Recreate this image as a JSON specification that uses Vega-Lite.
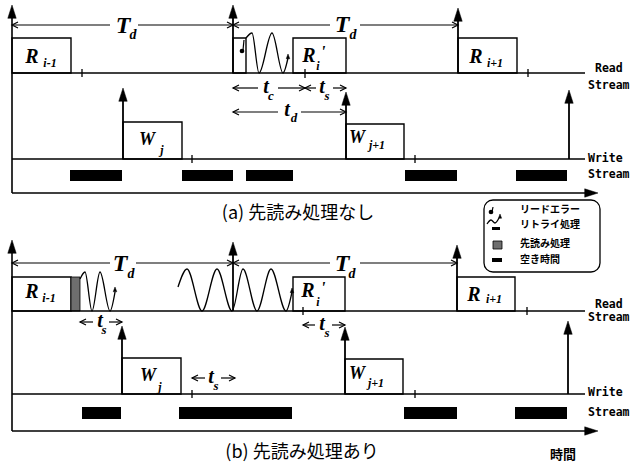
{
  "$schema": "https://vega.github.io/schema/vega-lite/v6.json",
  "width": 631,
  "height": 466,
  "padding": 0,
  "autosize": {"type": "fit", "contains": "padding"},
  "background": "white",
  "config": {"view": {"stroke": null}},
  "datasets": {
    "legendbox": [{"x": 484, "x2": 600, "y": 200, "y2": 272}],
    "boxes": [
      {"x": 12, "x2": 71, "y": 38, "y2": 73},
      {"x": 233, "x2": 246, "y": 38, "y2": 73},
      {"x": 293, "x2": 346, "y": 38, "y2": 73},
      {"x": 458, "x2": 517, "y": 38, "y2": 73},
      {"x": 123, "x2": 182, "y": 122, "y2": 159},
      {"x": 346, "x2": 404, "y": 124, "y2": 159},
      {"x": 12, "x2": 71, "y": 277, "y2": 311},
      {"x": 293, "x2": 345, "y": 277, "y2": 311},
      {"x": 457, "x2": 515, "y": 277, "y2": 311},
      {"x": 122, "x2": 181, "y": 358, "y2": 394},
      {"x": 345, "x2": 403, "y": 359, "y2": 394}
    ],
    "hatched": [
      {"x": 71, "x2": 80, "y": 277, "y2": 311},
      {"x": 493, "x2": 502, "y": 241, "y2": 249}
    ],
    "bars": [
      {"x": 70, "x2": 122, "y": 170, "y2": 181},
      {"x": 182, "x2": 233, "y": 170, "y2": 181},
      {"x": 246, "x2": 293, "y": 170, "y2": 181},
      {"x": 405, "x2": 457, "y": 170, "y2": 181},
      {"x": 516, "x2": 567, "y": 170, "y2": 181},
      {"x": 82, "x2": 121, "y": 407, "y2": 419},
      {"x": 179, "x2": 292, "y": 407, "y2": 419},
      {"x": 404, "x2": 457, "y": 407, "y2": 419},
      {"x": 515, "x2": 567, "y": 407, "y2": 419},
      {"x": 492, "x2": 502, "y": 258, "y2": 262},
      {"x": 492, "x2": 500, "y": 227, "y2": 230}
    ],
    "segs": [
      {"x": 12, "y": 8, "x2": 12, "y2": 193, "w": 1.6},
      {"x": 12, "y": 193, "x2": 592, "y2": 193, "w": 1.5},
      {"x": 12, "y": 73, "x2": 585, "y2": 73, "w": 1.5},
      {"x": 12, "y": 159, "x2": 585, "y2": 159, "w": 1.5},
      {"x": 233, "y": 10, "x2": 233, "y2": 73, "w": 1.8},
      {"x": 458, "y": 12, "x2": 458, "y2": 73, "w": 1.8},
      {"x": 123, "y": 92, "x2": 123, "y2": 159, "w": 1.8},
      {"x": 346, "y": 95, "x2": 346, "y2": 159, "w": 1.8},
      {"x": 569, "y": 93, "x2": 569, "y2": 159, "w": 1.8},
      {"x": 12, "y": 25, "x2": 110, "y2": 25, "w": 1.2},
      {"x": 138, "y": 25, "x2": 233, "y2": 25, "w": 1.2},
      {"x": 233, "y": 25, "x2": 330, "y2": 25, "w": 1.2},
      {"x": 360, "y": 25, "x2": 458, "y2": 25, "w": 1.2},
      {"x": 233, "y": 88, "x2": 258, "y2": 88, "w": 1.2},
      {"x": 278, "y": 88, "x2": 305, "y2": 88, "w": 1.2},
      {"x": 305, "y": 88, "x2": 316, "y2": 88, "w": 1.2},
      {"x": 333, "y": 88, "x2": 346, "y2": 88, "w": 1.2},
      {"x": 233, "y": 112, "x2": 278, "y2": 112, "w": 1.2},
      {"x": 301, "y": 112, "x2": 346, "y2": 112, "w": 1.2},
      {"x": 82, "y": 69, "x2": 82, "y2": 77, "w": 1.3},
      {"x": 305, "y": 69, "x2": 305, "y2": 78, "w": 1.3},
      {"x": 528, "y": 69, "x2": 528, "y2": 77, "w": 1.3},
      {"x": 192, "y": 155, "x2": 192, "y2": 163, "w": 1.3},
      {"x": 415, "y": 155, "x2": 415, "y2": 163, "w": 1.3},
      {"x": 244, "y": 40, "x2": 243, "y2": 50, "w": 1.2},
      {"x": 12, "y": 244, "x2": 12, "y2": 431, "w": 1.6},
      {"x": 12, "y": 431, "x2": 592, "y2": 431, "w": 1.5},
      {"x": 12, "y": 311, "x2": 585, "y2": 311, "w": 1.5},
      {"x": 12, "y": 394, "x2": 585, "y2": 394, "w": 1.5},
      {"x": 233, "y": 246, "x2": 233, "y2": 311, "w": 1.8},
      {"x": 457, "y": 249, "x2": 457, "y2": 311, "w": 1.8},
      {"x": 122, "y": 330, "x2": 122, "y2": 394, "w": 1.8},
      {"x": 345, "y": 331, "x2": 345, "y2": 394, "w": 1.8},
      {"x": 568, "y": 326, "x2": 568, "y2": 394, "w": 1.8},
      {"x": 12, "y": 263, "x2": 110, "y2": 263, "w": 1.2},
      {"x": 136, "y": 263, "x2": 233, "y2": 263, "w": 1.2},
      {"x": 233, "y": 263, "x2": 330, "y2": 263, "w": 1.2},
      {"x": 360, "y": 263, "x2": 457, "y2": 263, "w": 1.2},
      {"x": 80, "y": 322, "x2": 93, "y2": 322, "w": 1.2},
      {"x": 109, "y": 322, "x2": 122, "y2": 322, "w": 1.2},
      {"x": 303, "y": 325, "x2": 315, "y2": 325, "w": 1.2},
      {"x": 332, "y": 325, "x2": 345, "y2": 325, "w": 1.2},
      {"x": 192, "y": 378, "x2": 205, "y2": 378, "w": 1.2},
      {"x": 221, "y": 378, "x2": 235, "y2": 378, "w": 1.2},
      {"x": 303, "y": 307, "x2": 303, "y2": 315, "w": 1.3},
      {"x": 527, "y": 307, "x2": 527, "y2": 315, "w": 1.3},
      {"x": 192, "y": 390, "x2": 192, "y2": 398, "w": 1.3},
      {"x": 415, "y": 390, "x2": 415, "y2": 398, "w": 1.3},
      {"x": 493, "y": 207, "x2": 492, "y2": 212, "w": 1.2}
    ],
    "waves": [
      {"id": "a1", "i": 0, "x": 246, "y": 38},
      {"id": "a1", "i": 1, "x": 252, "y": 33},
      {"id": "a1", "i": 2, "x": 259, "y": 73},
      {"id": "a1", "i": 3, "x": 272, "y": 33},
      {"id": "a1", "i": 4, "x": 283, "y": 73},
      {"id": "a1", "i": 5, "x": 288, "y": 58},
      {"id": "b1", "i": 0, "x": 80, "y": 279},
      {"id": "b1", "i": 1, "x": 85, "y": 272},
      {"id": "b1", "i": 2, "x": 92, "y": 311},
      {"id": "b1", "i": 3, "x": 100, "y": 272},
      {"id": "b1", "i": 4, "x": 110, "y": 311},
      {"id": "b1", "i": 5, "x": 115, "y": 292},
      {"id": "b2", "i": 0, "x": 178, "y": 287},
      {"id": "b2", "i": 1, "x": 187, "y": 269},
      {"id": "b2", "i": 2, "x": 202, "y": 311},
      {"id": "b2", "i": 3, "x": 217, "y": 269},
      {"id": "b2", "i": 4, "x": 232, "y": 311},
      {"id": "b2", "i": 5, "x": 243, "y": 269},
      {"id": "b2", "i": 6, "x": 257, "y": 311},
      {"id": "b2", "i": 7, "x": 271, "y": 269},
      {"id": "b2", "i": 8, "x": 286, "y": 311},
      {"id": "b2", "i": 9, "x": 292, "y": 292},
      {"id": "lg", "i": 0, "x": 487, "y": 224},
      {"id": "lg", "i": 1, "x": 491, "y": 220},
      {"id": "lg", "i": 2, "x": 495, "y": 223},
      {"id": "lg", "i": 3, "x": 499, "y": 218}
    ],
    "heads": [
      {"x": 12, "y": 5, "s": "M0,0L0.6,1.9L-0.6,1.9Z", "z": 196},
      {"x": 233, "y": 5, "s": "M0,0L0.6,1.9L-0.6,1.9Z", "z": 196},
      {"x": 458, "y": 8, "s": "M0,0L0.6,1.9L-0.6,1.9Z", "z": 196},
      {"x": 123, "y": 88, "s": "M0,0L0.6,1.9L-0.6,1.9Z", "z": 196},
      {"x": 346, "y": 92, "s": "M0,0L0.6,1.9L-0.6,1.9Z", "z": 196},
      {"x": 569, "y": 90, "s": "M0,0L0.6,1.9L-0.6,1.9Z", "z": 196},
      {"x": 12, "y": 240, "s": "M0,0L0.6,1.9L-0.6,1.9Z", "z": 196},
      {"x": 233, "y": 242, "s": "M0,0L0.6,1.9L-0.6,1.9Z", "z": 196},
      {"x": 457, "y": 245, "s": "M0,0L0.6,1.9L-0.6,1.9Z", "z": 196},
      {"x": 122, "y": 326, "s": "M0,0L0.6,1.9L-0.6,1.9Z", "z": 196},
      {"x": 345, "y": 327, "s": "M0,0L0.6,1.9L-0.6,1.9Z", "z": 196},
      {"x": 568, "y": 321, "s": "M0,0L0.6,1.9L-0.6,1.9Z", "z": 196},
      {"x": 598, "y": 193, "s": "M0,0L-1.9,-0.6L-1.9,0.6Z", "z": 196},
      {"x": 598, "y": 431, "s": "M0,0L-1.9,-0.6L-1.9,0.6Z", "z": 196},
      {"x": 288, "y": 54, "s": "M0,0L0.7,1.9L-0.7,1.9Z", "z": 25},
      {"x": 115, "y": 287, "s": "M0,0L0.7,1.9L-0.7,1.9Z", "z": 25},
      {"x": 292, "y": 288, "s": "M0,0L0.7,1.9L-0.7,1.9Z", "z": 25},
      {"x": 500, "y": 214, "s": "M0,0L0.7,1.9L-0.7,1.9Z", "z": 20}
    ],
    "chevrons": [
      {"x": 12, "y": 25, "s": "M1.5,-0.75L0,0L1.5,0.75"},
      {"x": 233, "y": 25, "s": "M-1.5,-0.75L0,0L-1.5,0.75"},
      {"x": 233, "y": 25, "s": "M1.5,-0.75L0,0L1.5,0.75"},
      {"x": 458, "y": 25, "s": "M-1.5,-0.75L0,0L-1.5,0.75"},
      {"x": 233, "y": 88, "s": "M1.5,-0.75L0,0L1.5,0.75"},
      {"x": 305, "y": 88, "s": "M-1.5,-0.75L0,0L-1.5,0.75"},
      {"x": 305, "y": 88, "s": "M1.5,-0.75L0,0L1.5,0.75"},
      {"x": 346, "y": 88, "s": "M-1.5,-0.75L0,0L-1.5,0.75"},
      {"x": 233, "y": 112, "s": "M1.5,-0.75L0,0L1.5,0.75"},
      {"x": 346, "y": 112, "s": "M-1.5,-0.75L0,0L-1.5,0.75"},
      {"x": 12, "y": 263, "s": "M1.5,-0.75L0,0L1.5,0.75"},
      {"x": 233, "y": 263, "s": "M-1.5,-0.75L0,0L-1.5,0.75"},
      {"x": 233, "y": 263, "s": "M1.5,-0.75L0,0L1.5,0.75"},
      {"x": 457, "y": 263, "s": "M-1.5,-0.75L0,0L-1.5,0.75"},
      {"x": 80, "y": 322, "s": "M1.5,-0.75L0,0L1.5,0.75"},
      {"x": 122, "y": 322, "s": "M-1.5,-0.75L0,0L-1.5,0.75"},
      {"x": 303, "y": 325, "s": "M1.5,-0.75L0,0L1.5,0.75"},
      {"x": 345, "y": 325, "s": "M-1.5,-0.75L0,0L-1.5,0.75"},
      {"x": 192, "y": 378, "s": "M1.5,-0.75L0,0L1.5,0.75"},
      {"x": 235, "y": 378, "s": "M-1.5,-0.75L0,0L-1.5,0.75"}
    ],
    "dots": [
      {"x": 242, "y": 51},
      {"x": 491, "y": 212}
    ],
    "serif": [
      {"x": 123, "y": 26, "t": "T", "z": 24},
      {"x": 133, "y": 35, "t": "d", "z": 14},
      {"x": 342, "y": 25, "t": "T", "z": 24},
      {"x": 353, "y": 35, "t": "d", "z": 14},
      {"x": 32, "y": 57, "t": "R", "z": 20},
      {"x": 50, "y": 63, "t": "i-1", "z": 12},
      {"x": 309, "y": 56, "t": "R", "z": 20},
      {"x": 318, "y": 66, "t": "i", "z": 12},
      {"x": 323, "y": 52, "t": "'", "z": 17},
      {"x": 476, "y": 57, "t": "R", "z": 20},
      {"x": 495, "y": 63, "t": "i+1", "z": 12},
      {"x": 147, "y": 140, "t": "W", "z": 18},
      {"x": 162, "y": 150, "t": "j", "z": 12},
      {"x": 357, "y": 138, "t": "W", "z": 18},
      {"x": 377, "y": 145, "t": "j+1", "z": 12},
      {"x": 266, "y": 87, "t": "t", "z": 20},
      {"x": 271, "y": 96, "t": "c", "z": 13},
      {"x": 322, "y": 87, "t": "t", "z": 20},
      {"x": 327, "y": 96, "t": "s", "z": 13},
      {"x": 287, "y": 110, "t": "t", "z": 20},
      {"x": 294, "y": 118, "t": "d", "z": 13},
      {"x": 120, "y": 264, "t": "T", "z": 24},
      {"x": 131, "y": 274, "t": "d", "z": 14},
      {"x": 342, "y": 264, "t": "T", "z": 24},
      {"x": 352, "y": 274, "t": "d", "z": 14},
      {"x": 32, "y": 292, "t": "R", "z": 20},
      {"x": 49, "y": 298, "t": "i-1", "z": 12},
      {"x": 308, "y": 291, "t": "R", "z": 20},
      {"x": 318, "y": 302, "t": "i", "z": 12},
      {"x": 323, "y": 288, "t": "'", "z": 17},
      {"x": 474, "y": 295, "t": "R", "z": 20},
      {"x": 494, "y": 299, "t": "i+1", "z": 12},
      {"x": 148, "y": 376, "t": "W", "z": 18},
      {"x": 160, "y": 387, "t": "j", "z": 12},
      {"x": 357, "y": 374, "t": "W", "z": 18},
      {"x": 376, "y": 383, "t": "j+1", "z": 12},
      {"x": 100, "y": 321, "t": "t", "z": 20},
      {"x": 104, "y": 330, "t": "s", "z": 13},
      {"x": 322, "y": 324, "t": "t", "z": 20},
      {"x": 327, "y": 333, "t": "s", "z": 13},
      {"x": 211, "y": 377, "t": "t", "z": 20},
      {"x": 216, "y": 386, "t": "s", "z": 13}
    ],
    "mono": [
      {"x": 595, "y": 69, "t": "Read"},
      {"x": 588, "y": 86, "t": "Stream"},
      {"x": 588, "y": 159, "t": "Write"},
      {"x": 588, "y": 175, "t": "Stream"},
      {"x": 595, "y": 305, "t": "Read"},
      {"x": 588, "y": 318, "t": "Stream"},
      {"x": 588, "y": 393, "t": "Write"},
      {"x": 588, "y": 413, "t": "Stream"}
    ],
    "captions": [
      {"x": 298, "y": 214, "t": "(a) 先読み処理なし"},
      {"x": 302, "y": 453, "t": "(b) 先読み処理あり"}
    ],
    "legendtext": [
      {"x": 520, "y": 210, "t": "リードエラー", "z": 10},
      {"x": 520, "y": 225, "t": "リトライ処理", "z": 10},
      {"x": 520, "y": 244, "t": "先読み処理", "z": 10},
      {"x": 520, "y": 260, "t": "空き時間", "z": 10},
      {"x": 550, "y": 455, "t": "時間", "z": 13}
    ]
  },
  "layer": [
    {
      "data": {"name": "legendbox"},
      "mark": {"type": "rect", "fill": "white", "stroke": "black", "strokeWidth": 1.3, "cornerRadius": 9},
      "encoding": {
        "x": {"field": "x", "type": "quantitative", "scale": {"domain": [0, 631], "nice": false, "zero": false}, "axis": null},
        "x2": {"field": "x2"},
        "y": {"field": "y", "type": "quantitative", "scale": {"domain": [0, 466], "nice": false, "zero": false, "reverse": true}, "axis": null},
        "y2": {"field": "y2"}
      }
    },
    {
      "data": {"name": "boxes"},
      "mark": {"type": "rect", "fill": "white", "stroke": "black", "strokeWidth": 1.4},
      "encoding": {
        "x": {"field": "x", "type": "quantitative", "scale": {"domain": [0, 631], "nice": false, "zero": false}, "axis": null},
        "x2": {"field": "x2"},
        "y": {"field": "y", "type": "quantitative", "scale": {"domain": [0, 466], "nice": false, "zero": false, "reverse": true}, "axis": null},
        "y2": {"field": "y2"}
      }
    },
    {
      "data": {"name": "hatched"},
      "mark": {"type": "rect", "fill": "#6e6e6e", "stroke": "black", "strokeWidth": 0.8},
      "encoding": {
        "x": {"field": "x", "type": "quantitative", "scale": {"domain": [0, 631], "nice": false, "zero": false}, "axis": null},
        "x2": {"field": "x2"},
        "y": {"field": "y", "type": "quantitative", "scale": {"domain": [0, 466], "nice": false, "zero": false, "reverse": true}, "axis": null},
        "y2": {"field": "y2"}
      }
    },
    {
      "data": {"name": "bars"},
      "mark": {"type": "rect", "fill": "black"},
      "encoding": {
        "x": {"field": "x", "type": "quantitative", "scale": {"domain": [0, 631], "nice": false, "zero": false}, "axis": null},
        "x2": {"field": "x2"},
        "y": {"field": "y", "type": "quantitative", "scale": {"domain": [0, 466], "nice": false, "zero": false, "reverse": true}, "axis": null},
        "y2": {"field": "y2"}
      }
    },
    {
      "data": {"name": "segs"},
      "mark": {"type": "rule", "color": "black"},
      "encoding": {
        "x": {"field": "x", "type": "quantitative", "scale": {"domain": [0, 631], "nice": false, "zero": false}, "axis": null},
        "x2": {"field": "x2"},
        "y": {"field": "y", "type": "quantitative", "scale": {"domain": [0, 466], "nice": false, "zero": false, "reverse": true}, "axis": null},
        "y2": {"field": "y2"},
        "strokeWidth": {"field": "w", "type": "quantitative", "scale": null}
      }
    },
    {
      "data": {"name": "waves"},
      "mark": {"type": "line", "color": "black", "strokeWidth": 1.3, "interpolate": "monotone"},
      "encoding": {
        "x": {"field": "x", "type": "quantitative", "scale": {"domain": [0, 631], "nice": false, "zero": false}, "axis": null},
        "y": {"field": "y", "type": "quantitative", "scale": {"domain": [0, 466], "nice": false, "zero": false, "reverse": true}, "axis": null},
        "detail": {"field": "id"},
        "order": {"field": "i", "type": "quantitative"}
      }
    },
    {
      "data": {"name": "heads"},
      "mark": {"type": "point", "filled": true, "color": "black", "opacity": 1, "strokeWidth": 0.5, "stroke": "black"},
      "encoding": {
        "x": {"field": "x", "type": "quantitative", "scale": {"domain": [0, 631], "nice": false, "zero": false}, "axis": null},
        "y": {"field": "y", "type": "quantitative", "scale": {"domain": [0, 466], "nice": false, "zero": false, "reverse": true}, "axis": null},
        "shape": {"field": "s", "type": "nominal", "scale": null},
        "size": {"field": "z", "type": "quantitative", "scale": null}
      }
    },
    {
      "data": {"name": "chevrons"},
      "mark": {"type": "point", "filled": false, "stroke": "black", "strokeWidth": 1.2, "opacity": 1, "size": 64},
      "encoding": {
        "x": {"field": "x", "type": "quantitative", "scale": {"domain": [0, 631], "nice": false, "zero": false}, "axis": null},
        "y": {"field": "y", "type": "quantitative", "scale": {"domain": [0, 466], "nice": false, "zero": false, "reverse": true}, "axis": null},
        "shape": {"field": "s", "type": "nominal", "scale": null}
      }
    },
    {
      "data": {"name": "dots"},
      "mark": {"type": "circle", "color": "black", "opacity": 1, "size": 22},
      "encoding": {
        "x": {"field": "x", "type": "quantitative", "scale": {"domain": [0, 631], "nice": false, "zero": false}, "axis": null},
        "y": {"field": "y", "type": "quantitative", "scale": {"domain": [0, 466], "nice": false, "zero": false, "reverse": true}, "axis": null}
      }
    },
    {
      "data": {"name": "serif"},
      "mark": {"type": "text", "font": "Liberation Serif", "fontStyle": "italic", "fontWeight": "bold", "color": "black", "align": "center", "baseline": "middle"},
      "encoding": {
        "x": {"field": "x", "type": "quantitative", "scale": {"domain": [0, 631], "nice": false, "zero": false}, "axis": null},
        "y": {"field": "y", "type": "quantitative", "scale": {"domain": [0, 466], "nice": false, "zero": false, "reverse": true}, "axis": null},
        "text": {"field": "t"},
        "size": {"field": "z", "type": "quantitative", "scale": null}
      }
    },
    {
      "data": {"name": "mono"},
      "mark": {"type": "text", "font": "DejaVu Sans Mono", "fontWeight": "bold", "fontSize": 11.5, "color": "black", "align": "left", "baseline": "middle"},
      "encoding": {
        "x": {"field": "x", "type": "quantitative", "scale": {"domain": [0, 631], "nice": false, "zero": false}, "axis": null},
        "y": {"field": "y", "type": "quantitative", "scale": {"domain": [0, 466], "nice": false, "zero": false, "reverse": true}, "axis": null},
        "text": {"field": "t"}
      }
    },
    {
      "data": {"name": "captions"},
      "mark": {"type": "text", "font": "Noto Sans CJK JP", "fontSize": 18, "color": "black", "align": "center", "baseline": "middle"},
      "encoding": {
        "x": {"field": "x", "type": "quantitative", "scale": {"domain": [0, 631], "nice": false, "zero": false}, "axis": null},
        "y": {"field": "y", "type": "quantitative", "scale": {"domain": [0, 466], "nice": false, "zero": false, "reverse": true}, "axis": null},
        "text": {"field": "t"}
      }
    },
    {
      "data": {"name": "legendtext"},
      "mark": {"type": "text", "font": "Noto Sans CJK JP", "fontWeight": "bold", "color": "black", "align": "left", "baseline": "middle"},
      "encoding": {
        "x": {"field": "x", "type": "quantitative", "scale": {"domain": [0, 631], "nice": false, "zero": false}, "axis": null},
        "y": {"field": "y", "type": "quantitative", "scale": {"domain": [0, 466], "nice": false, "zero": false, "reverse": true}, "axis": null},
        "text": {"field": "t"},
        "size": {"field": "z", "type": "quantitative", "scale": null}
      }
    }
  ]
}
